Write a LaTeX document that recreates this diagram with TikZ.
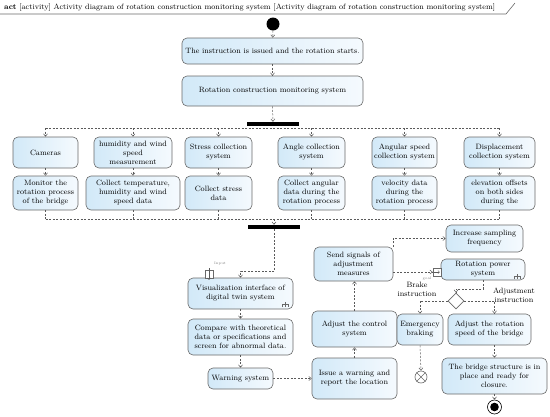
\documentclass[tikz,border=0pt]{standalone}
\usetikzlibrary{arrows.meta,shapes.geometric}
\definecolor{lineg}{RGB}{90,90,90}
\definecolor{boxb}{RGB}{105,105,105}
\definecolor{fillA}{RGB}{210,233,248}
\definecolor{fillB}{RGB}{245,250,254}
\newcommand\fs{\fontsize{7.7}{9}\selectfont}
\newcommand\tinyfs{\fontsize{3.6}{4}\selectfont}
\tikzset{
  act/.style={draw=boxb, line width=0.6pt, rounded corners=5pt, left color=fillA, right color=fillB,
    align=center, font=\fs, inner sep=1pt, text=black},
  flow/.style={draw=lineg, dash pattern=on 2pt off 1.5pt, line width=0.5pt,
    -{Straight Barb[length=2.5pt,width=4pt]}},
  plain/.style={draw=lineg, dash pattern=on 2pt off 1.5pt, line width=0.5pt},
  bar/.style={fill=black, inner sep=0pt},
  lbl/.style={font=\fs, align=center, inner sep=0pt},
  pinlbl/.style={font=\tinyfs, text=gray, inner sep=0pt},
}
\newcommand\actbox[6]{\node[act, minimum width=#4pt, minimum height=#5pt] (#1) at (#2,#3) {#6};}
\begin{document}
\begin{tikzpicture}[x=1pt,y=-1pt]
\useasboundingbox (0,0) rectangle (550,416);
% header
\node[anchor=west, font=\fs, inner sep=0pt] (hdr) at (4,8) {\textbf{act} [activity] Activity diagram of rotation construction monitoring system [Activity diagram of rotation construction monitoring system]};
\draw[boxb, line width=0.6pt] (0,14) -- (506,14) -- (515,3);
% start
\node[circle, fill=black, minimum size=13pt, inner sep=0pt] (start) at (273,24) {};
\actbox{b1}{272.5}{51}{181}{26}{The instruction is issued and the rotation starts.}
\actbox{b2}{272.5}{91}{181}{30}{Rotation construction monitoring system}
\node[bar, minimum width=52pt, minimum height=4pt] (fork) at (273,124) {};
% row 1
\actbox{cam}{45.5}{152.5}{65}{31}{Cameras}
\actbox{hum}{133}{152.5}{78}{31}{humidity and wind\\speed\\measurement}
\actbox{str}{218.5}{152.5}{67}{31}{Stress collection\\system}
\actbox{ang}{311.5}{152.5}{67}{31}{Angle collection\\system}
\actbox{asp}{404.5}{152.5}{65}{31}{Angular speed\\collection system}
\actbox{dis}{499.5}{152.5}{71}{31}{Displacement\\collection system}
% row 2
\actbox{mon}{45.5}{193}{65}{34}{Monitor the\\rotation process\\of the bridge}
\actbox{tem}{133}{193}{94}{34}{Collect temperature,\\humidity and wind\\speed data}
\actbox{sd}{218.5}{193}{67}{34}{Collect stress\\data}
\actbox{ca}{311.5}{193}{67}{34}{Collect angular\\data during the\\rotation process}
\actbox{vel}{404.5}{193}{65}{34}{velocity data\\during the\\rotation process}
\actbox{ele}{499.5}{193}{71}{34}{elevation offsets\\on both sides\\during the}
\node[bar, minimum width=52pt, minimum height=4pt] (join) at (274,227) {};
% lower part
\actbox{vis}{240.5}{293.5}{105}{31}{Visualization interface of\\digital twin system}
\actbox{cmp}{240.5}{337}{105}{36}{Compare with theoretical\\data or specifications and\\screen for abnormal data.}
\actbox{warn}{240.5}{378.5}{65}{21}{Warning system}
\actbox{issue}{354.5}{378.5}{85}{41}{Issue a warning and\\report the location}
\actbox{adj}{354.5}{329}{85}{36}{Adjust the control\\system}
\actbox{send}{353.5}{264}{79}{34}{Send signals of\\adjustment\\measures}
\actbox{inc}{484.5}{238.5}{77}{27}{Increase sampling\\frequency}
\actbox{rot}{483}{269.5}{84}{21}{Rotation power\\system}
\node[diamond, draw=boxb, line width=0.6pt, fill=white, minimum width=16pt, minimum height=16pt, inner sep=0pt] (dec) at (456,301) {};
\actbox{emg}{420}{329.5}{46}{31}{Emergency\\braking}
\actbox{ars}{489.5}{329.5}{83}{31}{Adjust the rotation\\speed of the bridge}
\actbox{brg}{494.5}{376}{105}{36}{The bridge structure is in\\place and ready for\\closure.}
\node[circle, draw=boxb, line width=0.6pt, minimum size=12pt, inner sep=0pt] (ff) at (421,377) {};
\draw[boxb, line width=0.6pt] (ff.north west) -- (ff.south east) (ff.north east) -- (ff.south west);
\node[circle, draw=black, line width=0.6pt, minimum size=14pt, inner sep=0pt] (fin) at (494.5,407) {};
\fill (fin.center) circle (4.3pt);
% pins
\node[draw=boxb, fill=white, line width=0.5pt, minimum size=8pt, inner sep=0pt] (inpin) at (209,274) {};
\draw[lineg, line width=0.4pt, -{Straight Barb[length=1.5pt,width=3pt]}] ([yshift=1.5pt]inpin.north) -- ([yshift=-1.5pt]inpin.south);
\node[pinlbl] (inlbl) at (220,264) {Input};
\node[draw=boxb, fill=white, line width=0.5pt, minimum size=8pt, inner sep=0pt] (gpin) at (437,272) {};
\draw[lineg, line width=0.4pt, -{Straight Barb[length=1.5pt,width=3pt]}] ([xshift=1.5pt]gpin.west) -- ([xshift=-1.5pt]gpin.east);
\node[pinlbl] (glbl) at (427,279) {goal};
% rake symbols
\draw[boxb, line width=0.5pt] (282,307) -- (282,304.5) -- (288,304.5) -- (288,307) (285,302) -- (285,307);
\draw[boxb, line width=0.5pt] (514,279) -- (514,276.5) -- (520,276.5) -- (520,279) (517,274) -- (517,279);
% labels
\node[lbl] (lbrake) at (417,289) {Brake\\instruction};
\node[lbl] (ladj) at (514,295) {Adjustment\\instruction};
% top flows
\draw[flow] (start) -- (b1);
\draw[flow] (b1) -- (b2);
\draw[flow] (b2.south) -- (fork.north);
\coordinate (fl) at (45.5,128);
\coordinate (fr) at (499.5,128);
\draw[plain] (fl) -- (fr);
\foreach \n in {cam,hum,str,ang,asp,dis}{\draw[flow] (\n.north |- fl) -- (\n.north);}
\foreach \a/\b in {cam/mon,hum/tem,str/sd,ang/ca,asp/vel,dis/ele}{\draw[flow] (\a.south) -- (\b.north);}
\coordinate (jl) at (45.5,219);
\coordinate (jr) at (499.5,219);
\draw[plain] (jl) -- (jr);
\foreach \n in {mon,tem,sd,ca,vel,ele}{\draw[plain] (\n.south) -- (\n.south |- jl);}
\draw[flow] (join.north |- jl) -- (join.north);
% lower flows
\draw[flow] (join.south) -- ++(0,42) -| (vis.north);
\draw[flow] (vis.south) -- (cmp.north);
\draw[flow] (cmp.south) -- (warn.north);
\draw[flow] (warn.east) -- (issue.west);
\draw[flow] (issue.north) -- (adj.south);
\draw[flow] (adj.north) -- (adj.north |- send.south);
\coordinate (s1) at ([xshift=-0.5pt]send.north east);
\draw[flow] (s1) |- (inc.west);
\draw[flow] (send.east |- gpin) -- (gpin.west);
\draw[flow] (rot.south) -- ++(0,8.5) -| (dec.north);
\draw[flow] (dec.west) -| (emg.north);
\draw[flow] (dec.east) -| (brg.north |- ars.north);
\draw[flow] (emg.south) -- (ff.north);
\draw[flow] (brg.north |- ars.south) -- (brg.north);
\draw[flow] (brg.south) -- (fin.north);
\end{tikzpicture}
\end{document}
